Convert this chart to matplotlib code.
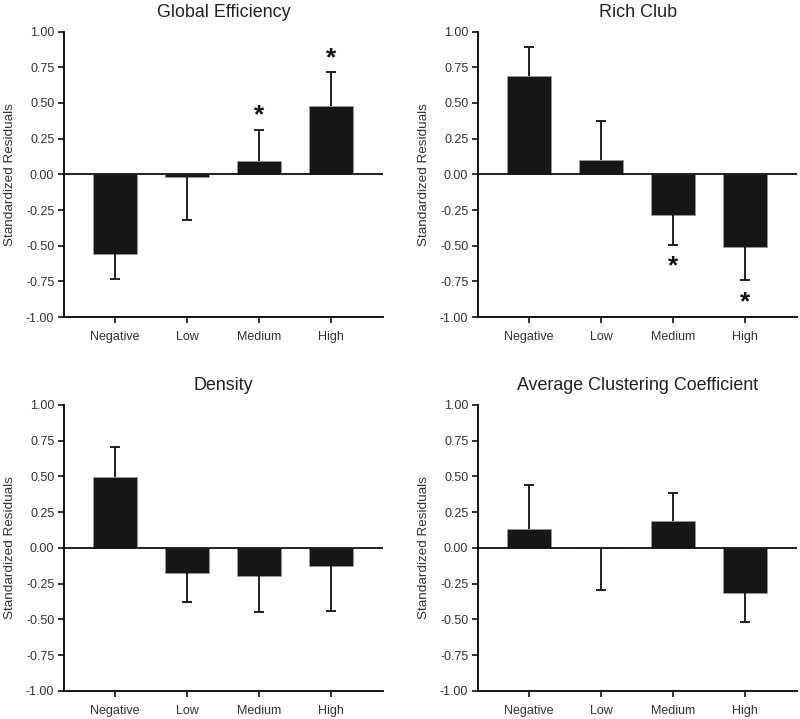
import matplotlib
matplotlib.use("Agg")
import matplotlib.pyplot as plt
import numpy as np

plt.rcParams['font.family'] = ['Liberation Sans', 'DejaVu Sans']

categories = ["Negative", "Low", "Medium", "High"]
titles = ["Global Efficiency", "Rich Club", "Density", "Average Clustering Coefficient"]

ge_means = [-0.555, -0.02, 0.091, 0.482]
ge_err = [0.18, 0.303, 0.219, 0.238]
ge_stars = [None, None, 0.43, 0.83]

rc_means = [0.689, 0.098, -0.283, -0.51]
rc_err = [0.201, 0.274, 0.211, 0.228]
rc_stars = [None, None, -0.63, -0.88]

de_means = [0.498, -0.177, -0.20, -0.13]
de_err = [0.21, 0.203, 0.249, 0.308]
de_stars = [None, None, None, None]

cc_means = [0.133, -0.004, 0.186, -0.317]
cc_err = [0.307, 0.289, 0.198, 0.20]
cc_stars = [None, None, None, None]

yticks = [1.00, 0.75, 0.50, 0.25, 0.00, -0.25, -0.50, -0.75, -1.00]

panels = [
    (titles[0], ge_means, ge_err, ge_stars),
    (titles[1], rc_means, rc_err, rc_stars),
    (titles[2], de_means, de_err, de_stars),
    (titles[3], cc_means, cc_err, cc_stars),
]

positions = [
    [0.08, 0.559, 0.399, 0.397],
    [0.5975, 0.559, 0.399, 0.397],
    [0.08, 0.039, 0.399, 0.398],
    [0.5975, 0.039, 0.399, 0.398],
]

fig = plt.figure(figsize=(8.0, 7.19), dpi=100)
x = np.arange(len(categories))
for (title, means, errs, stars), pos in zip(panels, positions):
    ax = fig.add_axes(pos)
    means = np.array(means)
    errs = np.array(errs)
    ax.bar(x, means, width=0.61, color="#161616", edgecolor="#9a9a9a",
           linewidth=0.5, zorder=2)
    ends = np.where(means < 0, means - errs, means + errs)
    ax.vlines(x, means, ends, colors='#111111', linewidth=1.3, zorder=3)
    ax.plot(x, ends, linestyle='none', marker='_', markersize=7.2,
            markeredgewidth=1.3, color='#111111', zorder=3)
    ax.axhline(0, color='#111111', linewidth=1.3, zorder=4)
    for xi, s in zip(x, stars):
        if s is not None:
            ax.text(xi, s, "*", ha='center', va='center_baseline',
                    fontsize=19, fontweight='bold', color='#111111')
    ax.set_xlim(-0.71, 3.72)
    ax.set_ylim(-1.0, 1.0)
    ax.set_yticks(yticks)
    ax.set_yticklabels([f"{v:.2f}" for v in yticks])
    ax.set_xticks(x)
    ax.set_xticklabels(categories)
    ax.spines['top'].set_visible(False)
    ax.spines['right'].set_visible(False)
    ax.spines['left'].set_linewidth(1.3)
    ax.spines['bottom'].set_linewidth(1.3)
    ax.tick_params(axis='both', length=4, width=1.2, labelsize=9,
                   colors='#111111', labelcolor='#333333')
    ax.tick_params(axis='x', pad=6)
    ax.tick_params(axis='y', pad=3)
    ax.set_ylabel("Standardized Residuals", fontsize=9.7, color='#333333',
                  labelpad=7)
    ax.set_title(title, fontsize=12.9, color='#222222', pad=10.5)

fig.savefig("out.png", dpi=100)
